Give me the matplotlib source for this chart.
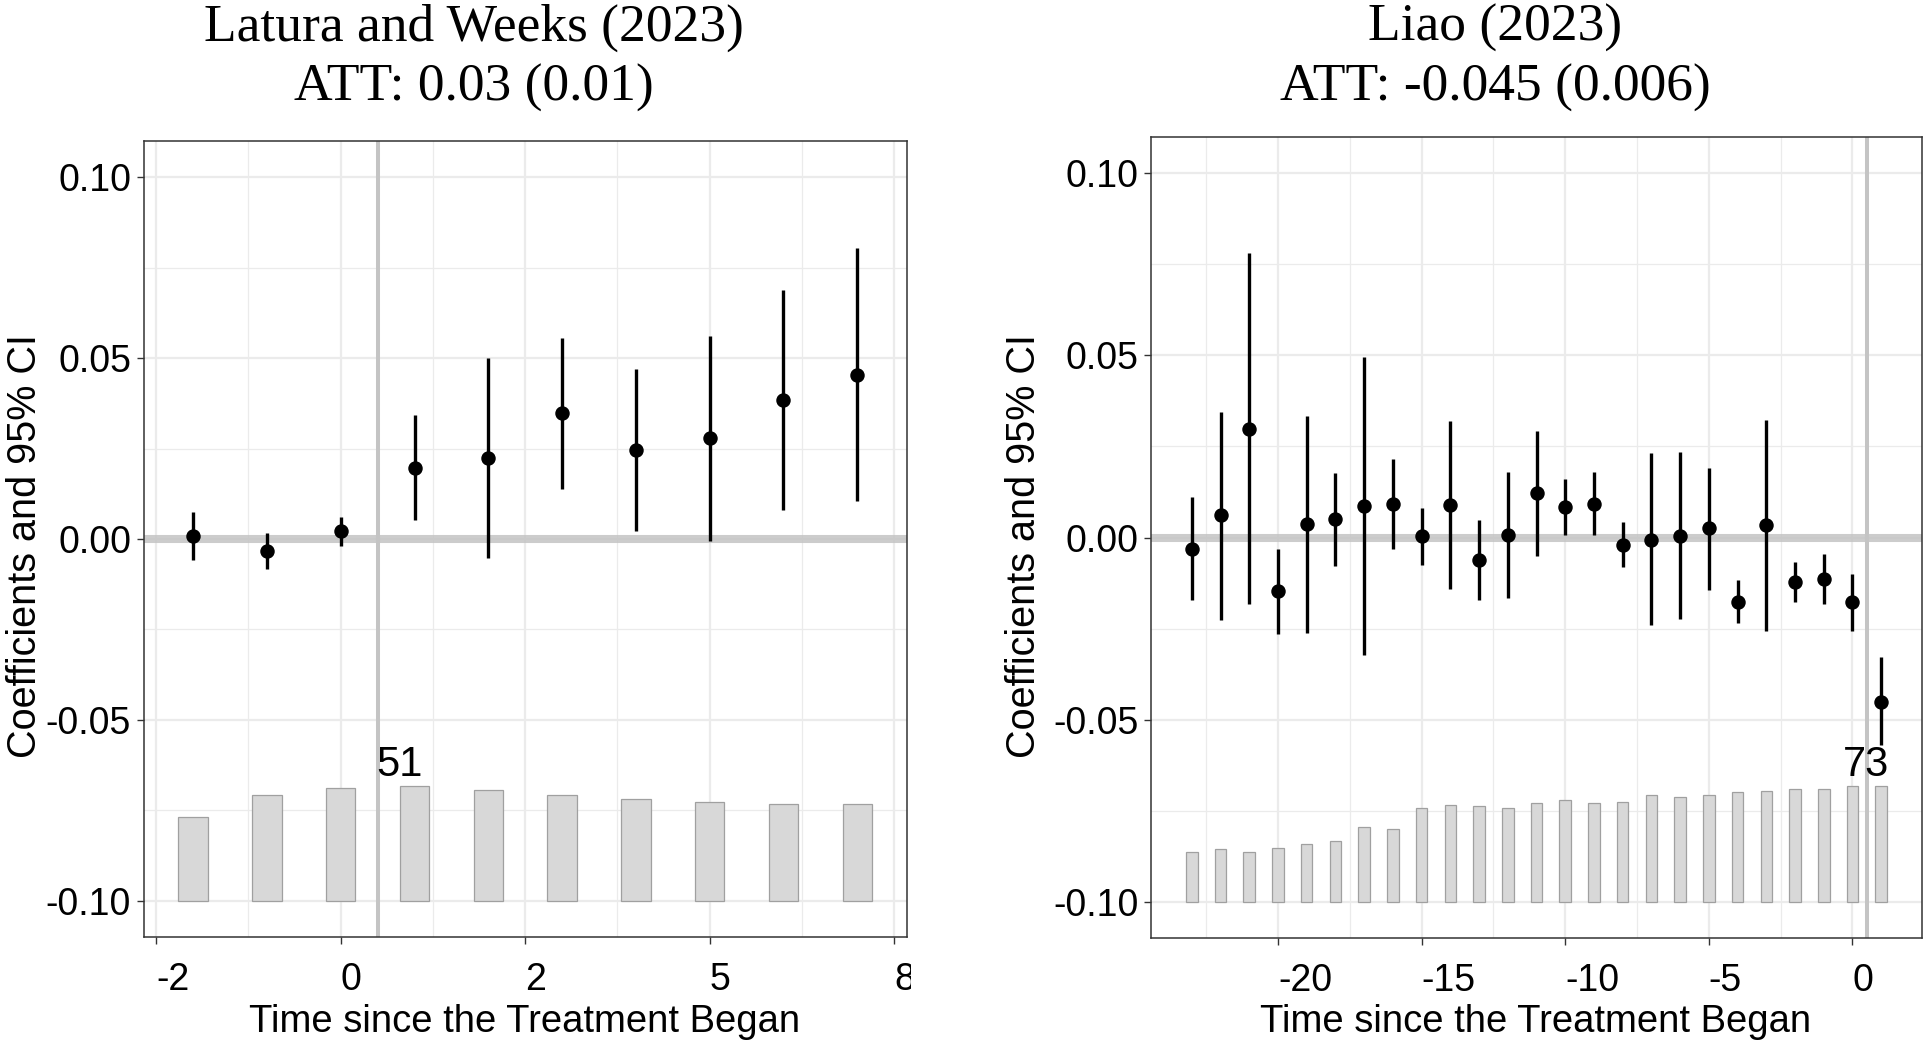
import matplotlib
matplotlib.use("Agg")
import matplotlib.pyplot as plt
from matplotlib.patches import Rectangle
from matplotlib.ticker import FixedLocator

plt.rcParams['axes.unicode_minus'] = False
plt.rcParams['font.family'] = ['Liberation Sans', 'DejaVu Sans']

# ---------------- Data: Latura and Weeks (2023) ----------------
lw_title = "Latura and Weeks (2023)"
lw_att = "ATT: 0.03 (0.01)"
lw_time = [-2, -1, 0, 1, 2, 3, 4, 5, 6, 7]
lw_est = [0.0008, -0.0033, 0.0022, 0.0197, 0.0225, 0.0347, 0.0246, 0.0279, 0.0383, 0.0454]
lw_lo = [-0.0058, -0.0084, -0.0019, 0.0052, -0.0053, 0.0137, 0.0021, -0.0006, 0.0080, 0.0106]
lw_hi = [0.0074, 0.0017, 0.0062, 0.0342, 0.0501, 0.0556, 0.0471, 0.0562, 0.0688, 0.0804]
lw_count = [37, 47, 50, 51, 49, 47, 45, 44, 43, 43]
lw_xticks = [-2.5, 0, 2.5, 5, 7.5]
lw_xticklabels = ['-2', '0', '2', '5', '8']
lw_xminor = [-1.25, 1.25, 3.75, 6.25]
lw_count_label_x = 0.79

# ---------------- Data: Liao (2023) ----------------
li_title = "Liao (2023)"
li_att = "ATT: -0.045 (0.006)"
li_time = list(range(-23, 2))
li_est = [-0.0032, 0.0061, 0.0299, -0.0147, 0.0037, 0.0050, 0.0087, 0.0093, 0.0003, 0.0090,
          -0.0063, 0.0006, 0.0122, 0.0084, 0.0093, -0.0021, -0.0007, 0.0005, 0.0025, -0.0177,
          0.0034, -0.0122, -0.0114, -0.0177, -0.0451]
li_hi = [0.0112, 0.0344, 0.0781, -0.0032, 0.0334, 0.0176, 0.0495, 0.0215, 0.0080, 0.0319,
         0.0049, 0.0180, 0.0293, 0.0161, 0.0179, 0.0043, 0.0232, 0.0236, 0.0191, -0.0117,
         0.0324, -0.0066, -0.0045, -0.0100, -0.0327]
li_lo = [-0.0172, -0.0227, -0.0184, -0.0264, -0.0263, -0.0078, -0.0322, -0.0031, -0.0075, -0.0141,
         -0.0173, -0.0167, -0.0051, 0.0007, 0.0007, -0.0082, -0.0240, -0.0223, -0.0144, -0.0236,
         -0.0258, -0.0178, -0.0183, -0.0256, -0.0570]
li_count = [31, 33, 31, 34, 36, 38, 47, 46, 59, 61, 60, 59, 62, 64, 62, 63, 67, 66, 67, 69,
            70, 71, 71, 73, 73]
li_xticks = [-20, -15, -10, -5, 0]
li_xticklabels = ['-20', '-15', '-10', '-5', '0']
li_xminor = [-22.5, -17.5, -12.5, -7.5, -2.5]
li_count_label_x = 0.46

yticks = [-0.10, -0.05, 0.00, 0.05, 0.10]
yticklabels = ['-0.10', '-0.05', '0.00', '0.05', '0.10']
yminor = [-0.075, -0.025, 0.025, 0.075]

# ---------------- Figure ----------------
W, H = 1929, 1047
fig = plt.figure(figsize=(W / 100, H / 100), dpi=100)
fig.patch.set_facecolor('white')


def px(x0, y0, x1, y1):
    return [x0 / W, 1 - y1 / H, (x1 - x0) / W, (y1 - y0) / H]


BAR_BASE = -0.10
BAR_MAX_H = 0.0318
FS = 27


def panel(ax, t, est, lo, hi, count, xticks, xlabels, xminor, xlim, cx):
    ax.set_xlim(*xlim)
    ax.set_ylim(-0.11, 0.11)
    ax.set_facecolor('white')
    for s in ax.spines.values():
        s.set_color('#333333')
        s.set_linewidth(1.1)
    ax.xaxis.set_major_locator(FixedLocator(xticks))
    ax.set_xticklabels(xlabels, ha='left')
    ax.xaxis.set_minor_locator(FixedLocator(xminor))
    ax.yaxis.set_major_locator(FixedLocator(yticks))
    ax.set_yticklabels(yticklabels)
    ax.yaxis.set_minor_locator(FixedLocator(yminor))
    ax.grid(which='major', color='#ebebeb', lw=1.6, zorder=0)
    ax.grid(which='minor', color='#ebebeb', lw=0.9, zorder=0)
    ax.set_axisbelow(True)
    ax.tick_params(which='major', length=5, width=1.0, color='#333333',
                   labelsize=FS, labelcolor='black')
    ax.tick_params(axis='y', which='major', pad=4)
    ax.tick_params(axis='x', which='major', pad=13)
    ax.tick_params(which='minor', length=0)
    # zero line and treatment line
    ax.axhline(0, color='#c4c4c4', lw=5.8, alpha=0.85, zorder=1)
    ax.axvline(0.5, color='#c4c4c4', lw=2.9, zorder=1)
    # counts bars
    mx = max(count)
    heights = [c / mx * BAR_MAX_H for c in count]
    ax.bar(t, heights, bottom=BAR_BASE, width=0.4, color='#d8d8d8',
           edgecolor='#a0a0a0', linewidth=0.9, zorder=2)
    ax.text(cx, BAR_BASE + BAR_MAX_H + 0.0026, str(mx), ha='center', va='baseline',
            fontsize=30, color='black', zorder=5)
    # estimates
    ax.vlines(t, lo, hi, color='black', lw=2.4, zorder=3)
    ax.plot(t, est, 'o', color='black', ms=9.4, zorder=4)


ax1 = fig.add_axes(px(143.7, 141, 906.7, 937))
panel(ax1, lw_time, lw_est, lw_lo, lw_hi, lw_count, lw_xticks, lw_xticklabels,
      lw_xminor, (-2.67, 7.67), lw_count_label_x)

ax2 = fig.add_axes(px(1151, 137, 1922, 938))
panel(ax2, li_time, li_est, li_lo, li_hi, li_count, li_xticks, li_xticklabels,
      li_xminor, (-24.42, 2.42), li_count_label_x)

# titles
serif = ['Liberation Serif', 'DejaVu Serif']
for cxp, t1, t2 in [(474, lw_title, lw_att), (1495, li_title, li_att)]:
    fig.text(cxp / W, 1 - 41 / H, t1, ha='center', va='baseline', fontsize=38.5, family=serif)
    fig.text(cxp / W, 1 - 101 / H, t2, ha='center', va='baseline', fontsize=38.5, family=serif)

# axis labels
for cxp in [25, 1024]:
    fig.text(cxp / W, 1 - 546 / H, 'Coefficients and 95% CI', rotation=90,
             ha='center', va='center', fontsize=28.5)
for cxp in [525, 1536]:
    fig.text(cxp / W, 1 - 1032 / H, 'Time since the Treatment Began',
             ha='center', va='baseline', fontsize=FS + 0.5)

# clip the right part of the left plot's last tick label (as in the original)
fig.add_artist(Rectangle((911 / W, 1 - 1000 / H), 70 / W, 55 / H,
                         transform=fig.transFigure, facecolor='white',
                         edgecolor='none', zorder=10))

fig.savefig('out.png', dpi=100, facecolor='white')
